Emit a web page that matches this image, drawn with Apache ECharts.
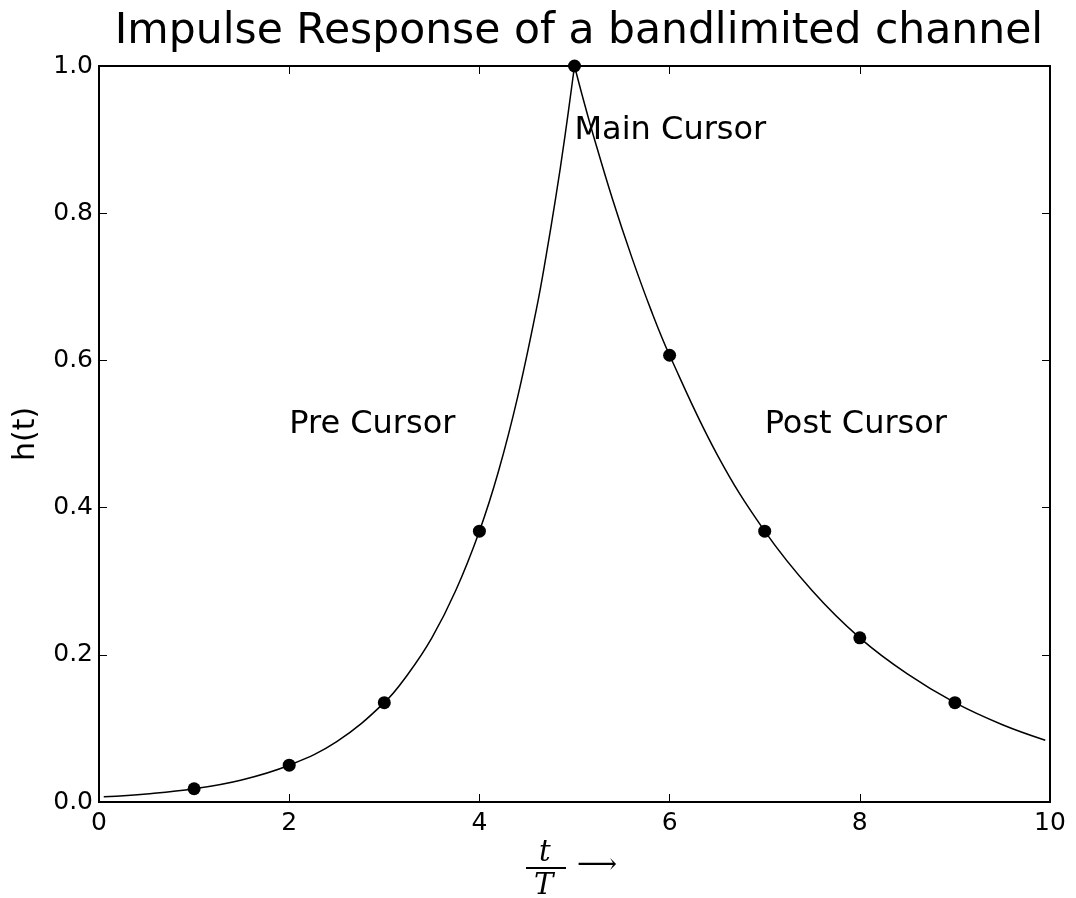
<!DOCTYPE html>
<html>
<head>
<meta charset="utf-8">
<script src="https://cdn.jsdelivr.net/npm/echarts@6/dist/echarts.min.js"></script>
<style>
html, body {margin: 0; padding: 0; background: #fff;}
#main {width: 1076px; height: 898px;}
</style>
</head>
<body>
<div id="main"></div>
<script>
// curve h(t): rising branch up to the peak, falling branch after it
const riseT = [0.05, 0.5, 1, 1.5, 2, 2.5, 3, 3.25, 3.5, 3.75, 4, 4.2, 4.4, 4.6, 4.7, 4.8, 4.9, 5];
const riseH = [0.007, 0.011, 0.018, 0.030, 0.050, 0.082, 0.135, 0.174, 0.223, 0.287, 0.368, 0.449, 0.549, 0.670, 0.741, 0.819, 0.905, 1.0];
const fallT = [5, 5.1, 5.2, 5.4, 5.6, 5.8, 6, 6.5, 7, 7.5, 8, 8.5, 9, 9.5, 9.95];
const fallH = [1.0, 0.951, 0.905, 0.819, 0.741, 0.670, 0.607, 0.472, 0.368, 0.287, 0.223, 0.174, 0.135, 0.105, 0.084];

// sampled cursors
const sampleT = [1, 2, 3, 4, 5, 6, 7, 8, 9];
const sampleH = [0.018, 0.050, 0.135, 0.368, 1.0, 0.607, 0.368, 0.223, 0.135];

// annotations
const noteText = ['Pre Cursor', 'Main Cursor', 'Post Cursor'];
const noteT = [2, 5, 7];
const noteH = [0.5, 0.9, 0.5];

const xTicks = [0, 2, 4, 6, 8, 10];
const yTicks = [0.0, 0.2, 0.4, 0.6, 0.8, 1.0];

const FONT = 'DejaVu Sans';
const zip = (a, b) => a.map((x, i) => [x, b[i]]);

const chart = echarts.init(document.getElementById('main'), null, {renderer: 'canvas'});

const tick = () => ({show: true, inside: true, length: 8, lineStyle: {color: '#000', width: 1}});
const baseX = () => ({
    type: 'value',
    min: xTicks[0],
    max: xTicks[xTicks.length - 1],
    interval: 2,
    splitLine: {show: false},
    axisLine: {show: false, onZero: false},
    axisTick: tick(),
});
const baseY = () => ({
    type: 'value',
    min: yTicks[0],
    max: yTicks[yTicks.length - 1],
    interval: 0.2,
    splitLine: {show: false},
    axisLine: {show: false, onZero: false},
    axisTick: tick(),
});

chart.setOption({
    animation: false,
    backgroundColor: '#fff',
    title: {
        text: 'Impulse Response of a bandlimited channel',
        left: 574,
        textAlign: 'center',
        top: 5,
        textStyle: {fontFamily: FONT, fontSize: 42.5, fontWeight: 'normal', color: '#000'},
    },
    grid: {
        left: 99,
        right: 26,
        top: 66,
        bottom: 96,
        show: true,
        borderColor: '#000',
        borderWidth: 2,
        backgroundColor: 'transparent',
    },
    xAxis: [{
        ...baseX(),
        position: 'bottom',
        axisLabel: {
            margin: 9,
            fontFamily: FONT, fontSize: 25, color: '#000',
            formatter: v => String(v),
        },
    }, {
        ...baseX(),
        position: 'top',
        axisLabel: {show: false},
    }],
    yAxis: [{
        ...baseY(),
        position: 'left',
        name: 'h(t)',
        nameLocation: 'middle',
        nameRotate: 90,
        nameGap: 58,
        nameTextStyle: {fontFamily: FONT, fontSize: 30, color: '#000'},
        axisLabel: {
            margin: 6,
            fontFamily: FONT, fontSize: 25, color: '#000',
            formatter: v => v.toFixed(1),
        },
    }, {
        ...baseY(),
        position: 'right',
        axisLabel: {show: false},
    }],
    series: [{
        name: 'rise',
        type: 'line',
        data: zip(riseT, riseH),
        smooth: 0.4,
        showSymbol: false,
        lineStyle: {color: '#000', width: 1.5},
        z: 2,
    }, {
        name: 'fall',
        type: 'line',
        data: zip(fallT, fallH),
        smooth: 0.4,
        showSymbol: false,
        lineStyle: {color: '#000', width: 1.5},
        z: 2,
    }, {
        name: 'samples',
        type: 'scatter',
        data: zip(sampleT, sampleH),
        symbol: 'circle',
        symbolSize: 13,
        itemStyle: {color: '#000', opacity: 1},
        z: 3,
    }, {
        name: 'notes',
        type: 'scatter',
        data: noteText.map((s, i) => ({name: s, value: [noteT[i], noteH[i]]})),
        symbolSize: 0,
        silent: true,
        itemStyle: {opacity: 1},
        label: {
            show: true,
            position: [0, 0],
            align: 'left',
            verticalAlign: 'bottom',
            offset: [0, 7],
            formatter: p => p.name,
            fontFamily: FONT,
            fontSize: 32,
            color: '#000',
            opacity: 1,
        },
        z: 4,
    }],
    graphic: [{
        type: 'text',
        left: 539,
        top: 839,
        style: {text: 't', font: 'italic 29px "DejaVu Serif"', fill: '#000'},
    }, {
        type: 'rect',
        left: 526,
        top: 867,
        shape: {width: 40, height: 2},
        style: {fill: '#000'},
    }, {
        type: 'text',
        left: 534,
        top: 872,
        style: {text: 'T', font: 'italic 29px "DejaVu Serif"', fill: '#000'},
    }, {
        type: 'text',
        left: 577,
        top: 852,
        style: {text: '⟶', font: '28px "DejaVu Serif"', fill: '#000'},
    }],
});
</script>
</body>
</html>
